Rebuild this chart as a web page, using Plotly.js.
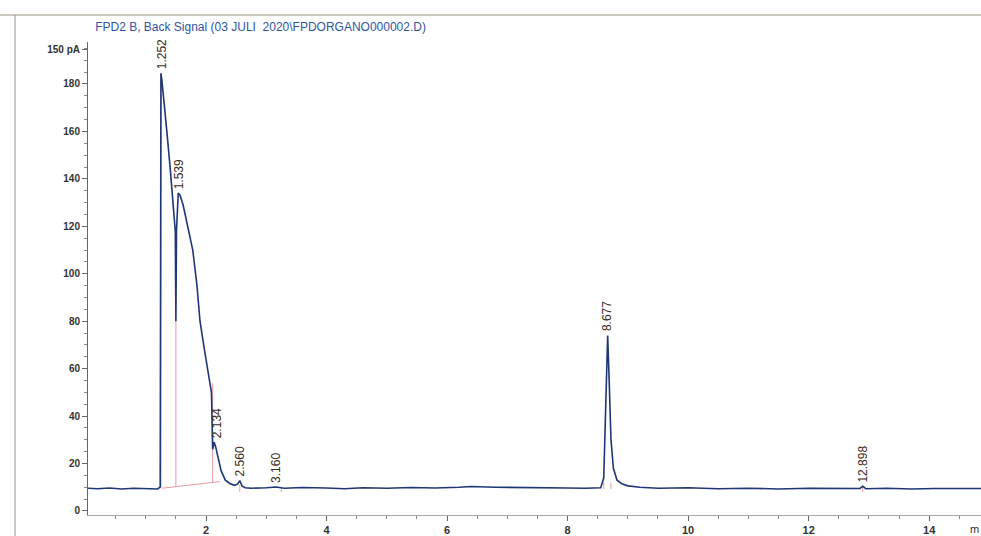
<!DOCTYPE html>
<html>
<head>
<meta charset="utf-8">
<script src="https://cdn.plot.ly/plotly-3.0.1.min.js"></script>
<style>
html,body{margin:0;padding:0;background:#fff;}
#chart{width:981px;height:536px;}
</style>
</head>
<body>
<div id="chart"></div>
<script>
// ---- data ----
var titleText = "FPD2 B, Back Signal (03 JULI  2020\\FPDORGANO000002.D)";

var timeMin = [0.04,0.2,0.4,0.6,0.8,1.0,1.1,1.2,1.24,1.252,1.27,1.30,1.35,1.40,1.45,1.49,1.50,1.51,1.539,1.57,1.62,1.70,1.78,1.85,1.90,1.98,2.05,2.09,2.11,2.134,2.16,2.20,2.25,2.32,2.40,2.48,2.53,2.56,2.60,2.65,2.75,3.0,3.16,3.3,3.6,4.0,4.3,4.6,5.0,5.4,5.8,6.2,6.4,6.8,7.2,7.6,8.0,8.3,8.55,8.60,8.63,8.665,8.69,8.72,8.76,8.82,8.9,9.0,9.2,9.5,10.0,10.5,11.0,11.5,12.0,12.5,12.85,12.898,12.95,13.3,13.7,14.1,14.5,14.86];
var signalPA = [9.6,9.4,9.7,9.3,9.6,9.4,9.5,9.3,10.2,184.5,181,172,160,146,130,118,80,118,134,133,129,120,110,95,80,67,55,50,26,29,27,22,17,13,11.5,10.8,11.5,12.8,10.5,9.8,9.6,9.8,10.1,9.6,9.9,9.7,9.4,9.8,9.6,9.9,9.7,10.0,10.3,10.0,9.8,9.9,9.7,9.6,9.8,14,45,74,55,30,18,13,11.5,10.6,10.0,9.6,9.8,9.4,9.6,9.3,9.6,9.4,9.5,10.4,9.4,9.6,9.3,9.5,9.4,9.5];

// peak labels (retention times) and apex heights
var peakTimes  = [1.252, 1.539, 2.134, 2.560, 3.160, 8.665, 12.898];
var peakApex   = [184.5, 134, 29, 12.8, 10.1, 74, 10.4];
var peakLabels = ["1.252","1.539","2.134","2.560","3.160","8.677","12.898"];

// integration baseline events (pink)
var intX = [1.252,1.252,null,1.50,1.50,null,2.11,2.11,null,1.27,2.23,null,2.56,2.56,null,3.25,3.25,null,8.60,8.60,null,8.72,8.72,null,12.898,12.898];
var intY = [9.5,184.5,null,10.2,80,null,12,54,null,9.6,12.4,null,8,11,null,8,10,null,9.2,12,null,9.2,12,null,8,10];

// axis ticks
var yTickVals = [0,20,40,60,80,100,120,140,160,180,194.4];
var yTickText = ["0","20","40","60","80","100","120","140","160","180","150 pA"];
var xTickVals = [2,4,6,8,10,12,14];
var xTickText = ["2","4","6","8","10","12","14"];

// ---- chart ----
var traces = [
  {x:intX, y:intY, type:'scatter', mode:'lines', line:{color:'#e79aa6', width:1}, hoverinfo:'skip', showlegend:false},
  {x:timeMin, y:signalPA, type:'scatter', mode:'lines', line:{color:'#1f3677', width:1.6}, showlegend:false}
];

var labelShift = [1, 1, 3, 0, 0, 0, 0];
var annotations = peakTimes.map(function(t,i){
  return {x:t, y:peakApex[i], xref:'x', yref:'y', text:peakLabels[i], showarrow:false,
    textangle:-90, xanchor:'center', yanchor:'bottom', yshift:2, xshift:labelShift[i],
    font:{family:'Liberation Sans, Arial, sans-serif', size:12, color:'#3a2a22'}};
});
annotations.push({xref:'paper', yref:'paper', x:1, y:0, xanchor:'right', yanchor:'top', xshift:0, yshift:-6,
  text:'m', showarrow:false, font:{family:'Liberation Sans, Arial, sans-serif', size:11, color:'#333'}});

var layout = {
  width:981, height:536,
  margin:{l:88, r:0, t:42, b:21, pad:0},
  paper_bgcolor:'#ffffff', plot_bgcolor:'#ffffff',
  title:{text:titleText, x:0.097, xanchor:'left', xref:'container', y:0.95, yanchor:'middle', yref:'container',
    font:{family:'Liberation Sans, Arial, sans-serif', size:12, color:'#2f55a4'}},
  xaxis:{range:[0.0415,14.86], showgrid:false, zeroline:false, showline:true, linecolor:'#a8a8a8', linewidth:1,
    tickmode:'array', tickvals:xTickVals, ticktext:xTickText, ticks:'outside', ticklen:5, tickcolor:'#666',
    minor:{dtick:0.5, ticks:'outside', ticklen:3, tickcolor:'#888', showgrid:false},
    tickfont:{family:'Liberation Sans, Arial, sans-serif', size:11, color:'#333', weight:'bold'}},
  yaxis:{range:[-1.69,197.7], showgrid:false, zeroline:false, showline:true, linecolor:'#666', linewidth:1,
    tickmode:'array', tickvals:yTickVals, ticktext:yTickText, ticks:'outside', ticklen:5, tickcolor:'#666',
    minor:{dtick:5, ticks:'outside', ticklen:3, tickcolor:'#888', showgrid:false},
    tickfont:{family:'Liberation Sans, Arial, sans-serif', size:10, color:'#333', weight:'bold'}},
  annotations:annotations,
  shapes:[
    {type:'line', xref:'paper', yref:'paper', x0:-88/893, x1:1, y0:(536-21-15)/473 , y1:(536-21-15)/473, line:{color:'#9c8f88', width:1}},
    {type:'line', xref:'paper', yref:'paper', x0:-73/893, x1:-73/893, y0:-21/473, y1:(536-21-15)/473, line:{color:'#9c8f88', width:1}}
  ]
};

Plotly.newPlot('chart', traces, layout, {displayModeBar:false, staticPlot:true});
</script>
</body>
</html>
